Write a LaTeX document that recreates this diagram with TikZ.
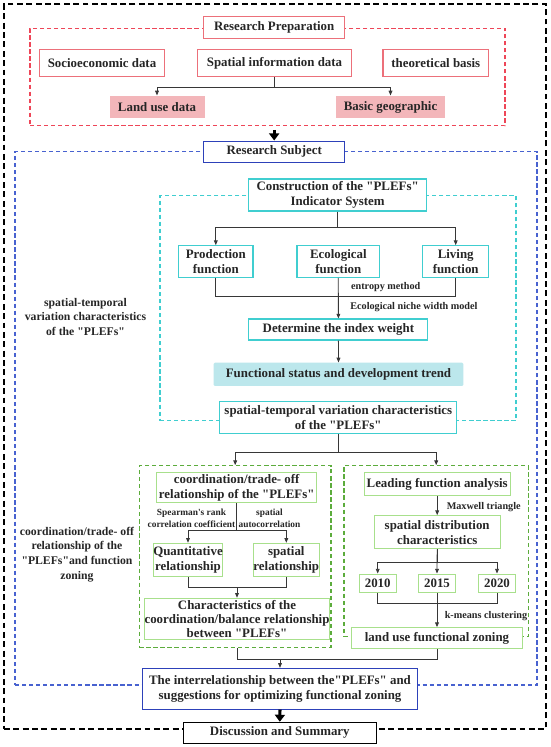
\documentclass[tikz,border=0pt]{standalone}
\usepackage{fontspec}
\setmainfont{Liberation Serif}[Ligatures=TeXOff]
\usepackage{tikz}
\usetikzlibrary{arrows.meta,positioning,calc}
\definecolor{prepred}{RGB}{238,70,88}
\definecolor{prepbox}{RGB}{236,112,122}
\definecolor{prepfill}{RGB}{243,182,186}
\definecolor{indcyan}{RGB}{64,206,208}
\definecolor{indfill}{RGB}{188,231,236}
\definecolor{subjblue}{RGB}{45,65,185}
\definecolor{frameblue}{RGB}{72,98,208}
\definecolor{framegreen}{RGB}{92,172,60}
\definecolor{boxgreen}{RGB}{168,224,140}
\definecolor{txtgray}{RGB}{38,38,38}
\definecolor{lnkgray}{RGB}{55,55,55}

\begin{document}
\begin{tikzpicture}[x=0.03cm, y=-0.03cm,
    sz/.style 2 args = {minimum width=#1*0.03cm, minimum height=#2*0.03cm},
    base/.style      = {rectangle, inner sep=0pt, align=center, text=txtgray,
                        font=\fontsize{11}{13}\selectfont\bfseries},
    redbox/.style    = {base, draw=prepbox, fill=white, line width=0.9pt},
    pinkbox/.style   = {base, fill=prepfill},
    cyanbox/.style   = {base, draw=indcyan, fill=white, line width=0.9pt},
    cyanfbox/.style  = {base, fill=indfill, rounded corners=1pt},
    bluebox/.style   = {base, draw=subjblue, fill=white, line width=0.9pt},
    greenbox/.style  = {base, draw=boxgreen, fill=white, line width=0.9pt},
    blackbox/.style  = {base, draw=black, fill=white, line width=0.9pt},
    frame/.style     = {rectangle, inner sep=0pt, line width=0.95pt,
                        dash pattern=on 3.6pt off 2.4pt},
    sidelabel/.style = {align=center, text=txtgray, inner sep=0pt,
                        font=\fontsize{10}{12.5}\selectfont\bfseries},
    eglabel/.style   = {align=center, text=txtgray, inner sep=0pt,
                        font=\fontsize{8.7}{10}\selectfont\bfseries},
    arr/.style       = {-{Triangle[length=4pt,width=3.2pt]}, line width=0.7pt, draw=lnkgray},
    lnk/.style       = {line width=0.7pt, draw=lnkgray},
    bigarr/.style    = {-{Triangle[length=6pt,width=8.5pt]}, line width=2.6pt, draw=black}
  ]
    \useasboundingbox[fill=white] (0,0) rectangle (550,747);

    % dashed frames
    \node[frame, draw=black, line width=1.2pt, dash pattern=on 5pt off 3pt, sz={542}{725}] (outerfr) at (275,366.5) {};
    \node[frame, draw=prepred,    sz={475}{97.4}]   (prepfr)  at (267.5,77) {};
    \node[frame, draw=frameblue,  sz={522}{533.3}]  (subjfr)  at (276,418.3) {};
    \node[frame, draw=indcyan,    sz={356}{225}]    (indfr)   at (338,308.2) {};
    \node[frame, draw=framegreen, sz={191.7}{181.6}] (coordfr) at (235.2,556.5) {};
    \node[frame, draw=framegreen, sz={184.3}{171}]  (zonefr)  at (436.2,551.2) {};

    % research preparation
    \node[redbox, sz={140.5}{21.7}] (prep)     at (274.2,27.5) {Research Preparation};
    \node[redbox, sz={125}{26.7}]   (socio)    at (102,63.3)   {Socioeconomic data};
    \node[redbox, sz={154}{26.7}]   (spatinfo) at (274.5,63.3) {Spatial information data};
    \node[redbox, sz={105.6}{26.7}] (theory)   at (435.8,63.3) {theoretical basis};
    \node[pinkbox, sz={95}{22.7}]   (landuse)  at (157,107)    {Land use data};
    \node[pinkbox, sz={109.6}{22.7}] (basicgeo) at (390.5,107) {Basic geographic};

    % research subject
    \node[bluebox, sz={140.5}{21.3}] (subject) at (274.2,151.7) {Research Subject};

    % indicator system
    \node[cyanbox, sz={177.5}{32}]   (construct) at (337.6,195) {Construction of the "PLEFs"\\Indicator System};
    \node[cyanbox, sz={74.4}{31.7}]  (prod)   at (215.8,261.5) {Prodection\\function};
    \node[cyanbox, sz={82.6}{31.7}]  (eco)    at (338.3,261.5) {Ecological\\function};
    \node[cyanbox, sz={65.8}{31.7}]  (living) at (455.7,261.5) {Living\\function};
    \node[cyanbox, sz={179}{21}]     (weight) at (338.4,329.5) {Determine the index weight};
    \node[cyanfbox, sz={249.6}{23.3}] (status) at (338.5,374.3) {Functional status and development trend};
    \node[cyanbox, sz={237.3}{32.3}] (stvar)  at (338.3,417.8) {spatial-temporal variation characteristics\\of the "PLEFs"};

    \node[eglabel] (entropy) at (385.7,287.3) {entropy method};
    \node[eglabel] (niche)   at (413.9,307)   {Ecological niche width model};

    % coordination / trade-off
    \node[greenbox, sz={160}{30}]    (coord)   at (236.7,487.7) {coordination/trade- off\\relationship of the "PLEFs"};
    \node[greenbox, sz={67.4}{33.4}] (quant)   at (188,560)     {Quantitative\\relationship};
    \node[greenbox, sz={57.3}{33.4}] (spatrel) at (286.3,560)   {spatial\\relationship};
    \node[greenbox, sz={169.4}{41}, font=\fontsize{11}{11.8}\selectfont\bfseries] (charac) at (237,618.8)
        {Characteristics of the\\coordination/balance relationship\\between "PLEFs"};
    \node[eglabel, font=\fontsize{8}{9.6}\selectfont\bfseries] (spear) at (191.5,518.3) {Spearman's rank\\correlation coefficient};
    \node[eglabel, font=\fontsize{8}{9.6}\selectfont\bfseries] (autoc) at (269.5,518.3) {spatial\\autocorrelation};

    % functional zoning
    \node[greenbox, sz={145.7}{23}]   (lead)     at (437.2,484.2) {Leading function analysis};
    \node[greenbox, sz={125.7}{33.3}] (spatdist) at (437.2,532.3) {spatial distribution\\characteristics};
    \node[greenbox, sz={36.7}{18.3}]  (y2010)    at (377.7,583.2) {2010};
    \node[greenbox, sz={37.4}{18.3}]  (y2015)    at (437,583.2)   {2015};
    \node[greenbox, sz={37.4}{18.3}]  (y2020)    at (497,583.2)   {2020};
    \node[greenbox, sz={170.6}{21.3}] (zoning)   at (437,638.3)   {land use functional zoning};
    \node[eglabel] (maxw)   at (483.7,507.3) {Maxwell triangle};
    \node[eglabel] (kmeans) at (486,615.7)   {k-means clustering};

    % results
    \node[bluebox, sz={275.2}{40.7}] (inter)   at (280,688.7) {The interrelationship between the"PLEFs" and\\suggestions for optimizing functional zoning};
    \node[blackbox, sz={192.5}{21}]  (discuss) at (279.8,732.8) {Discussion and Summary};

    % side labels
    \node[sidelabel] (lab1) at (85.5,316.7) {spatial-temporal\\variation characteristics\\of the "PLEFs"};
    \node[sidelabel] (lab2) at (77,554.2)   {coordination/trade- off\\relationship of the\\"PLEFs"and function\\zoning};

    % connectors
    \draw[arr] (spatinfo.south) -- ++(0,10.6) -| (landuse.north);
    \draw[arr] (spatinfo.south) -- ++(0,10.6) -| (basicgeo.north);
    \draw[bigarr, shorten <=3pt] (prepfr.south -| subject.north) -- (subject.north);

    \draw[arr] (construct.south) -- ++(0,15.7) -| (prod.north);
    \draw[arr] (construct.south) -- ++(0,15.7) -| (living.north);
    \draw[lnk] (prod.south) -- ++(0,18.7) -| (living.south);
    \draw[arr] (eco.south) -- (weight.north);
    \draw[arr] (weight.south) -- (status.north);

    \draw[arr] (stvar.south) -- ++(0,17.7) -| (coordfr.north);
    \draw[arr] (stvar.south) -- ++(0,17.7) -| (zonefr.north);

    \draw[arr] (coord.south) -- ++(0,27.3) -| (quant.north);
    \draw[arr] (coord.south) -- ++(0,27.3) -| (spatrel.north);
    \draw[lnk] (quant.south) -- ++(0,10.6) coordinate (qj) -| (spatrel.south);
    \draw[arr] (qj -| charac.north) -- (charac.north);

    \draw[arr] (lead.south) -- (spatdist.north);
    \draw[arr] (spatdist.south) -- ++(0,12.7) -| (y2010.north);
    \draw[arr] (spatdist.south) -- ++(0,12.7) -| (y2020.north);
    \draw[arr] (spatdist.south) -- (y2015.north);
    \draw[lnk] (y2010.south) -- ++(0,10.4) -| (y2020.south);
    \draw[arr] (y2015.south) -- (zoning.north);

    \draw[lnk] (coordfr.south -| charac.south) -- ++(0,12) coordinate (bj) -| (zoning.south);
    \draw[arr] (bj -| inter.north) -- (inter.north);
    \draw[bigarr] (inter.south) -- (discuss.north);
  \end{tikzpicture}
\end{document}
